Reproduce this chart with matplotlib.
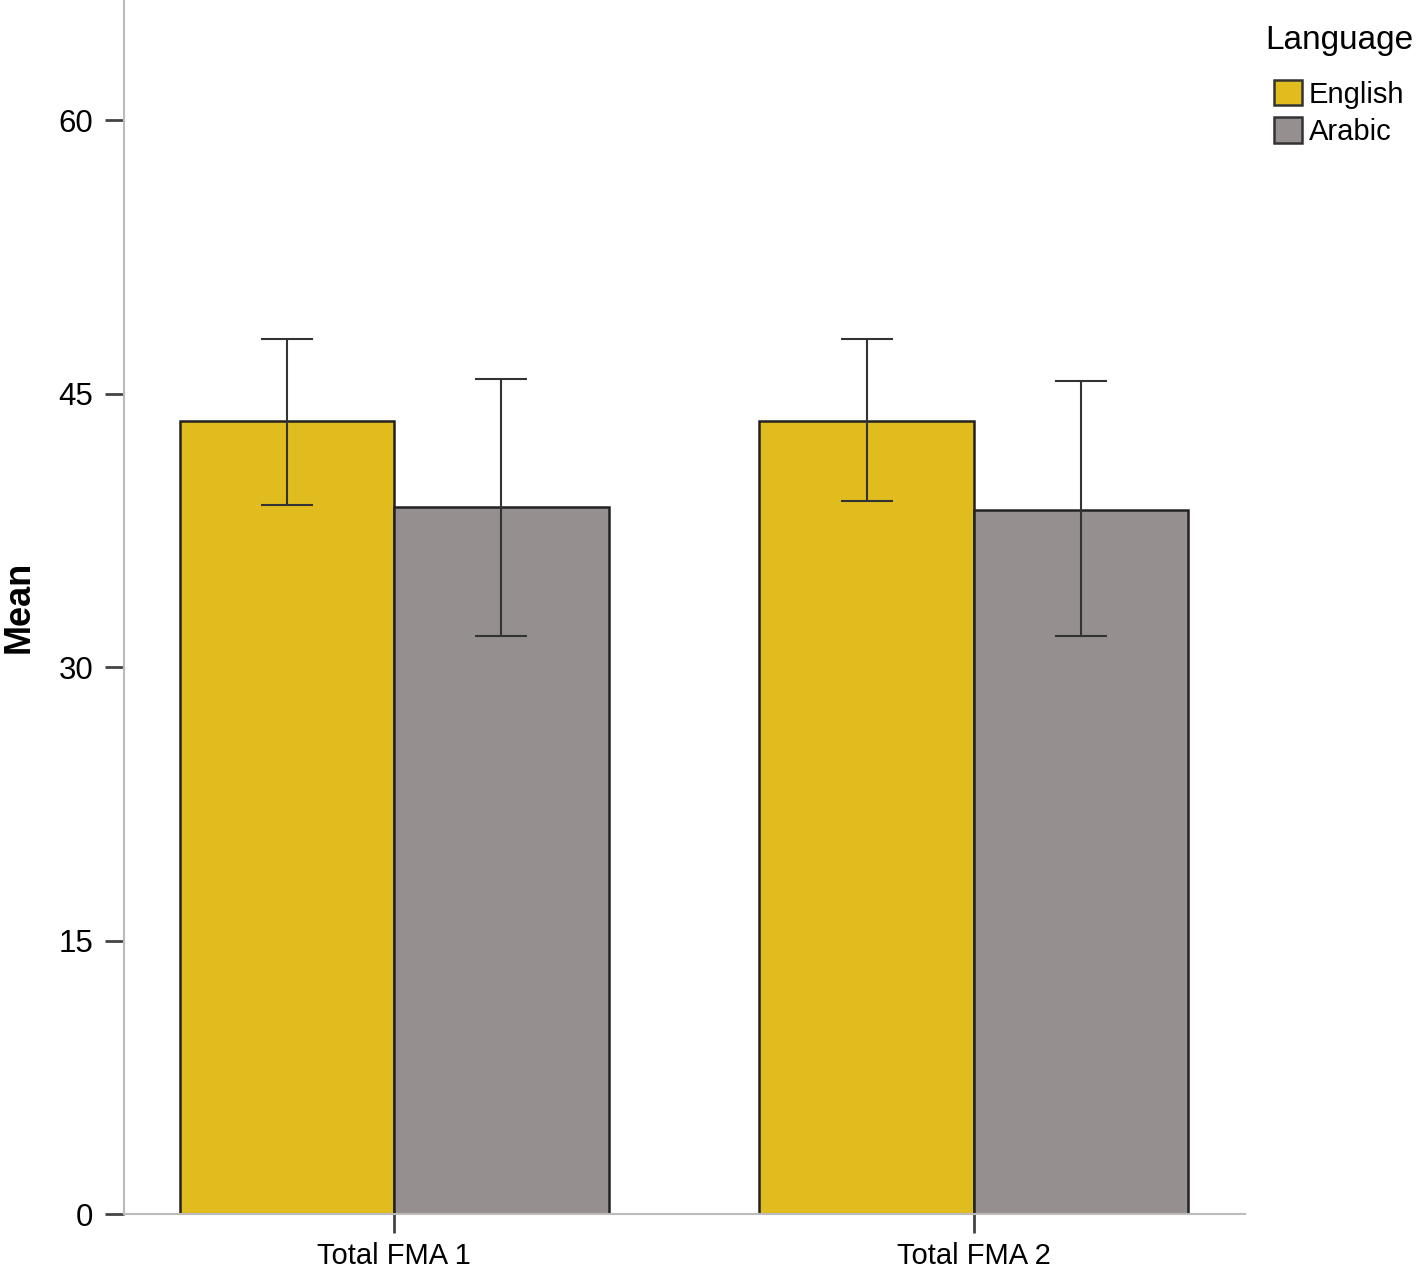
import matplotlib.pyplot as plt
import matplotlib.patches as patches
import numpy as np

plt.rcParams['font.family'] = ['Liberation Sans', 'DejaVu Sans']

# adatok
categories = ['Total FMA 1', 'Total FMA 2']
languages = ['English', 'Arabic']
means_english = [43.5, 43.5]
means_arabic = [38.8, 38.6]
err_low_english = [38.9, 39.1]
err_high_english = [48.0, 48.0]
err_low_arabic = [31.7, 31.7]
err_high_arabic = [45.8, 45.7]
colors = ['#E0BC1F', '#958F8F']

fig = plt.figure(figsize=(14.16, 12.67), dpi=100)
ax = fig.add_axes([0.0876, 0.0418, 0.7914, 0.9582])

x = np.arange(len(categories))
width = 0.37

series = [
    (means_english, err_low_english, err_high_english),
    (means_arabic, err_low_arabic, err_high_arabic),
]
for i, (m, lo, hi) in enumerate(series):
    pos = x + (i - 0.5) * width
    ax.bar(pos, m, width, color=colors[i], edgecolor='#222222', linewidth=1.8,
           label=languages[i], zorder=2)
    m = np.array(m)
    yerr = [m - np.array(lo), np.array(hi) - m]
    ax.errorbar(pos, m, yerr=yerr, fmt='none', ecolor='#333333', elinewidth=1.5,
                capsize=19, capthick=1.5, zorder=3)

ax.set_xlim(-0.466, 1.467)
ax.set_ylim(0, 66.6)
ax.set_xticks(x)
ax.set_xticklabels(categories, fontsize=21)
ax.set_yticks([0, 15, 30, 45, 60])
ax.tick_params(axis='y', labelsize=22.5, length=14, width=2, color='#444444', pad=8)
ax.tick_params(axis='x', length=14, width=2, color='#444444', pad=6)
for s in ['top', 'right']:
    ax.spines[s].set_visible(False)
for s in ['left', 'bottom']:
    ax.spines[s].set_color('#BBBBBB')
    ax.spines[s].set_linewidth(1.5)
ax.set_ylabel('Mean', fontsize=26, fontweight='bold')
ax.yaxis.set_label_coords(-0.078, 0.5)

# jelmagyarázat: cím külön szövegként, hogy a négyzetek beljebb kerüljenek
fig.text(1265 / 1416, 1 - 40 / 1267, 'Language', fontsize=24, ha='left', va='center')
handles = [patches.Patch(facecolor=colors[i], edgecolor='#333333', linewidth=1.8)
           for i in range(2)]
fig.legend(handles, languages, loc='upper left', bbox_to_anchor=(1274 / 1416, 1 - 80 / 1267),
           fontsize=21, frameon=False, handlelength=0.95, handleheight=0.95,
           handletextpad=0.25, labelspacing=0.3, borderpad=0, borderaxespad=0)

fig.savefig('out.png', dpi=100)
